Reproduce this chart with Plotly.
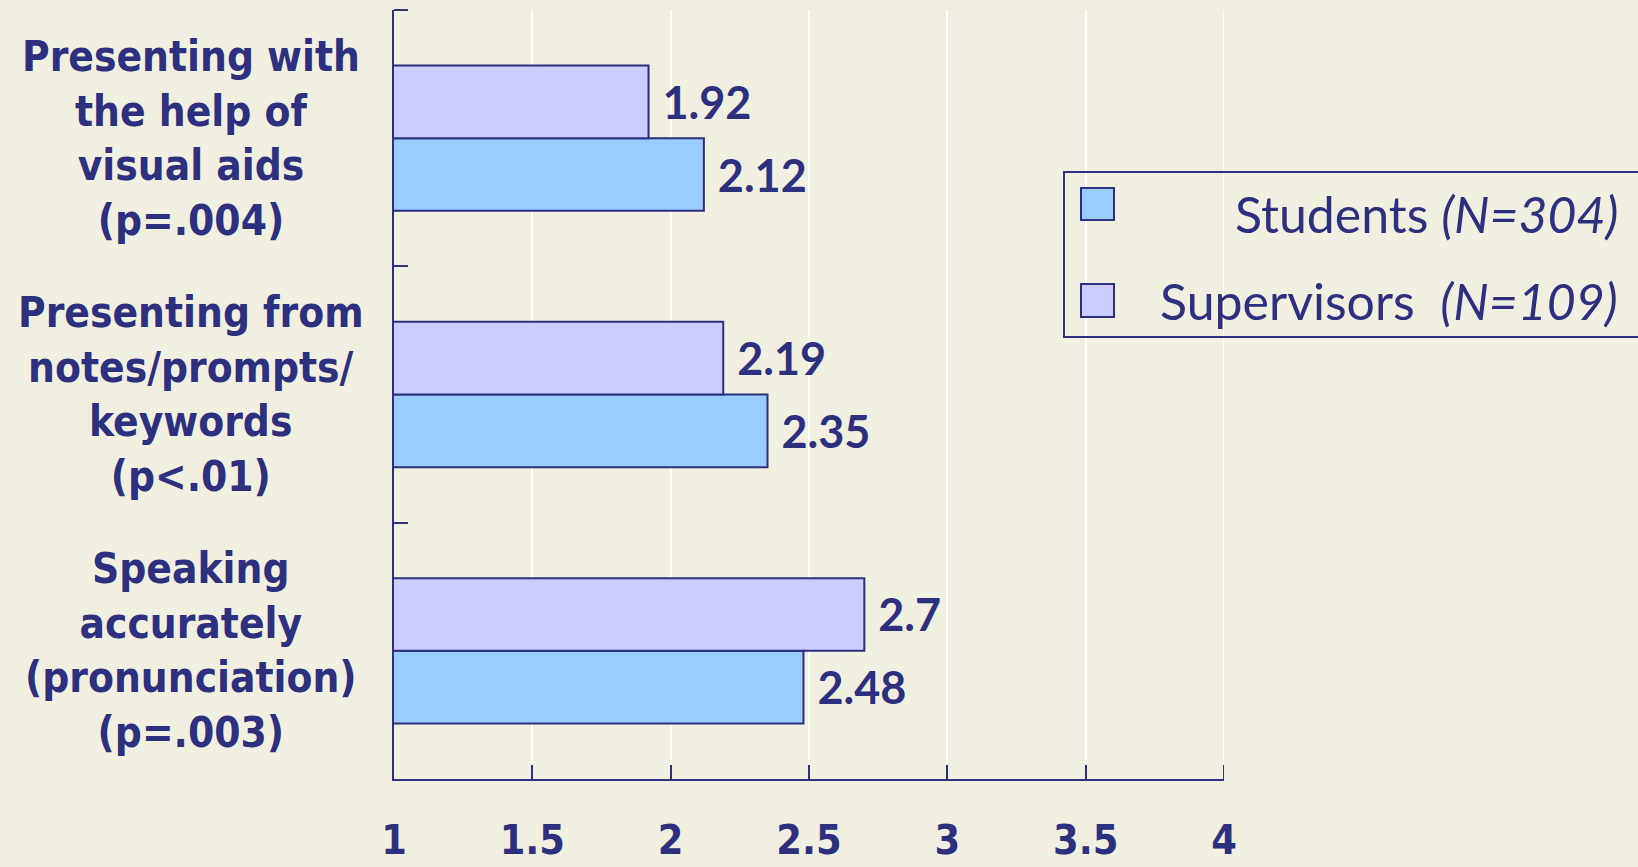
import plotly.graph_objects as go

# ---- data ----
categories = [
    "Presenting with<br>the help of<br>visual aids<br>(p=.004)",
    "Presenting from<br>notes/prompts/<br>keywords<br>(p&lt;.01)",
    "Speaking<br>accurately<br>(pronunciation)<br>(p=.003)",
]
students = [2.12, 2.35, 2.48]
supervisors = [1.92, 2.19, 2.7]
series_names = ["Students <i>(N=304)</i>", "Supervisors  <i>(N=109)</i>"]
x_ticks = [1, 1.5, 2, 2.5, 3, 3.5, 4]

NAVY = "#2D2F7F"
STUD = "#99CCFF"
SUPV = "#CCCCFF"
BG = "#F1EFE0"
COND = "Liberation Sans Narrow, DejaVu Sans Condensed, Roboto Condensed, Arial Narrow, DejaVu Sans, sans-serif"
WIDE = "Lato, Noto Sans, sans-serif"

W, H = 1638, 867
L, R, T, B = 394, 1224, 10, 779


def px(x):
    return (x - L) / (R - L)


def py(y):
    return (B - y) / (B - T)


fig = go.Figure()
fig.add_trace(go.Bar(
    y=categories, x=students, orientation="h", name=series_names[0],
    marker=dict(color=STUD, line=dict(color=NAVY, width=2)),
    text=[f" {v:g}" for v in students], textposition="outside",
    textfont=dict(family=WIDE, size=45, color=NAVY, weight="bold"),
    constraintext="none", cliponaxis=False, showlegend=False,
))
fig.add_trace(go.Bar(
    y=categories, x=supervisors, orientation="h", name=series_names[1],
    marker=dict(color=SUPV, line=dict(color=NAVY, width=2)),
    text=[f" {v:g}" for v in supervisors], textposition="outside",
    textfont=dict(family=WIDE, size=45, color=NAVY, weight="bold"),
    constraintext="none", cliponaxis=False, showlegend=False,
))

annotations = []
for c in categories:
    annotations.append(dict(
        x=px(191), xref="paper", y=c, yref="y", text=c, showarrow=False,
        xanchor="center", yanchor="middle", align="center",
        font=dict(family=COND, size=42, color=NAVY, weight="bold"),
    ))

# custom legend + axis end tick/grid
shapes = [
    dict(type="line", xref="x", yref="paper", x0=x_ticks[-1], x1=x_ticks[-1],
         y0=0, y1=1, line=dict(color="white", width=2), layer="below"),
    dict(type="line", xref="x", yref="paper", x0=x_ticks[-1], x1=x_ticks[-1],
         y0=0, y1=py(B - 14), line=dict(color=NAVY, width=2)),
    dict(type="line", xref="paper", yref="paper", x0=0, x1=px(L + 14),
         y0=1, y1=1, line=dict(color=NAVY, width=2)),
    dict(type="rect", xref="paper", yref="paper", x0=px(1064), x1=px(1660),
         y0=py(337), y1=py(172), line=dict(color=NAVY, width=2), fillcolor="rgba(0,0,0,0)"),
    dict(type="rect", xref="paper", yref="paper", x0=px(1081), x1=px(1114),
         y0=py(220), y1=py(188), line=dict(color=NAVY, width=2), fillcolor=STUD),
    dict(type="rect", xref="paper", yref="paper", x0=px(1081), x1=px(1114),
         y0=py(317), y1=py(284), line=dict(color=NAVY, width=2), fillcolor=SUPV),
]
for name, yc in zip(series_names, [214, 301]):
    annotations.append(dict(
        x=px(1620), xref="paper", y=py(yc), yref="paper", text=name, showarrow=False,
        xanchor="right", yanchor="middle",
        font=dict(family=WIDE, size=50, color=NAVY),
    ))

fig.update_layout(
    width=W, height=H,
    margin=dict(l=L, r=W - R, t=T, b=H - B, pad=0, autoexpand=False),
    paper_bgcolor=BG, plot_bgcolor=BG,
    barmode="group", bargap=0.433, bargroupgap=0,
    annotations=annotations, shapes=shapes,
    showlegend=False,
)
fig.update_xaxes(
    range=[1, 4], tickvals=x_ticks, ticktext=[f"{t:g}" for t in x_ticks],
    showgrid=True, gridcolor="white", gridwidth=2,
    showline=True, linecolor=NAVY, linewidth=2,
    ticks="inside", ticklen=14, tickwidth=2, tickcolor=NAVY,
    tickfont=dict(family=COND, size=41, color=NAVY, weight="bold"),
    ticklabelstandoff=24, zeroline=False, automargin=False,
)
fig.update_yaxes(
    categoryorder="array", categoryarray=categories[::-1],
    range=[-0.5, 2.5], showticklabels=False, showgrid=False,
    showline=True, linecolor=NAVY, linewidth=2,
    ticks="inside", tickson="boundaries", ticklen=14, tickwidth=2, tickcolor=NAVY,
    zeroline=False, automargin=False,
)

fig.write_html(
    "out.html",
    config={"displayModeBar": False},
    post_script="document.body.style.margin='0px';document.body.style.overflow='hidden';",
)
